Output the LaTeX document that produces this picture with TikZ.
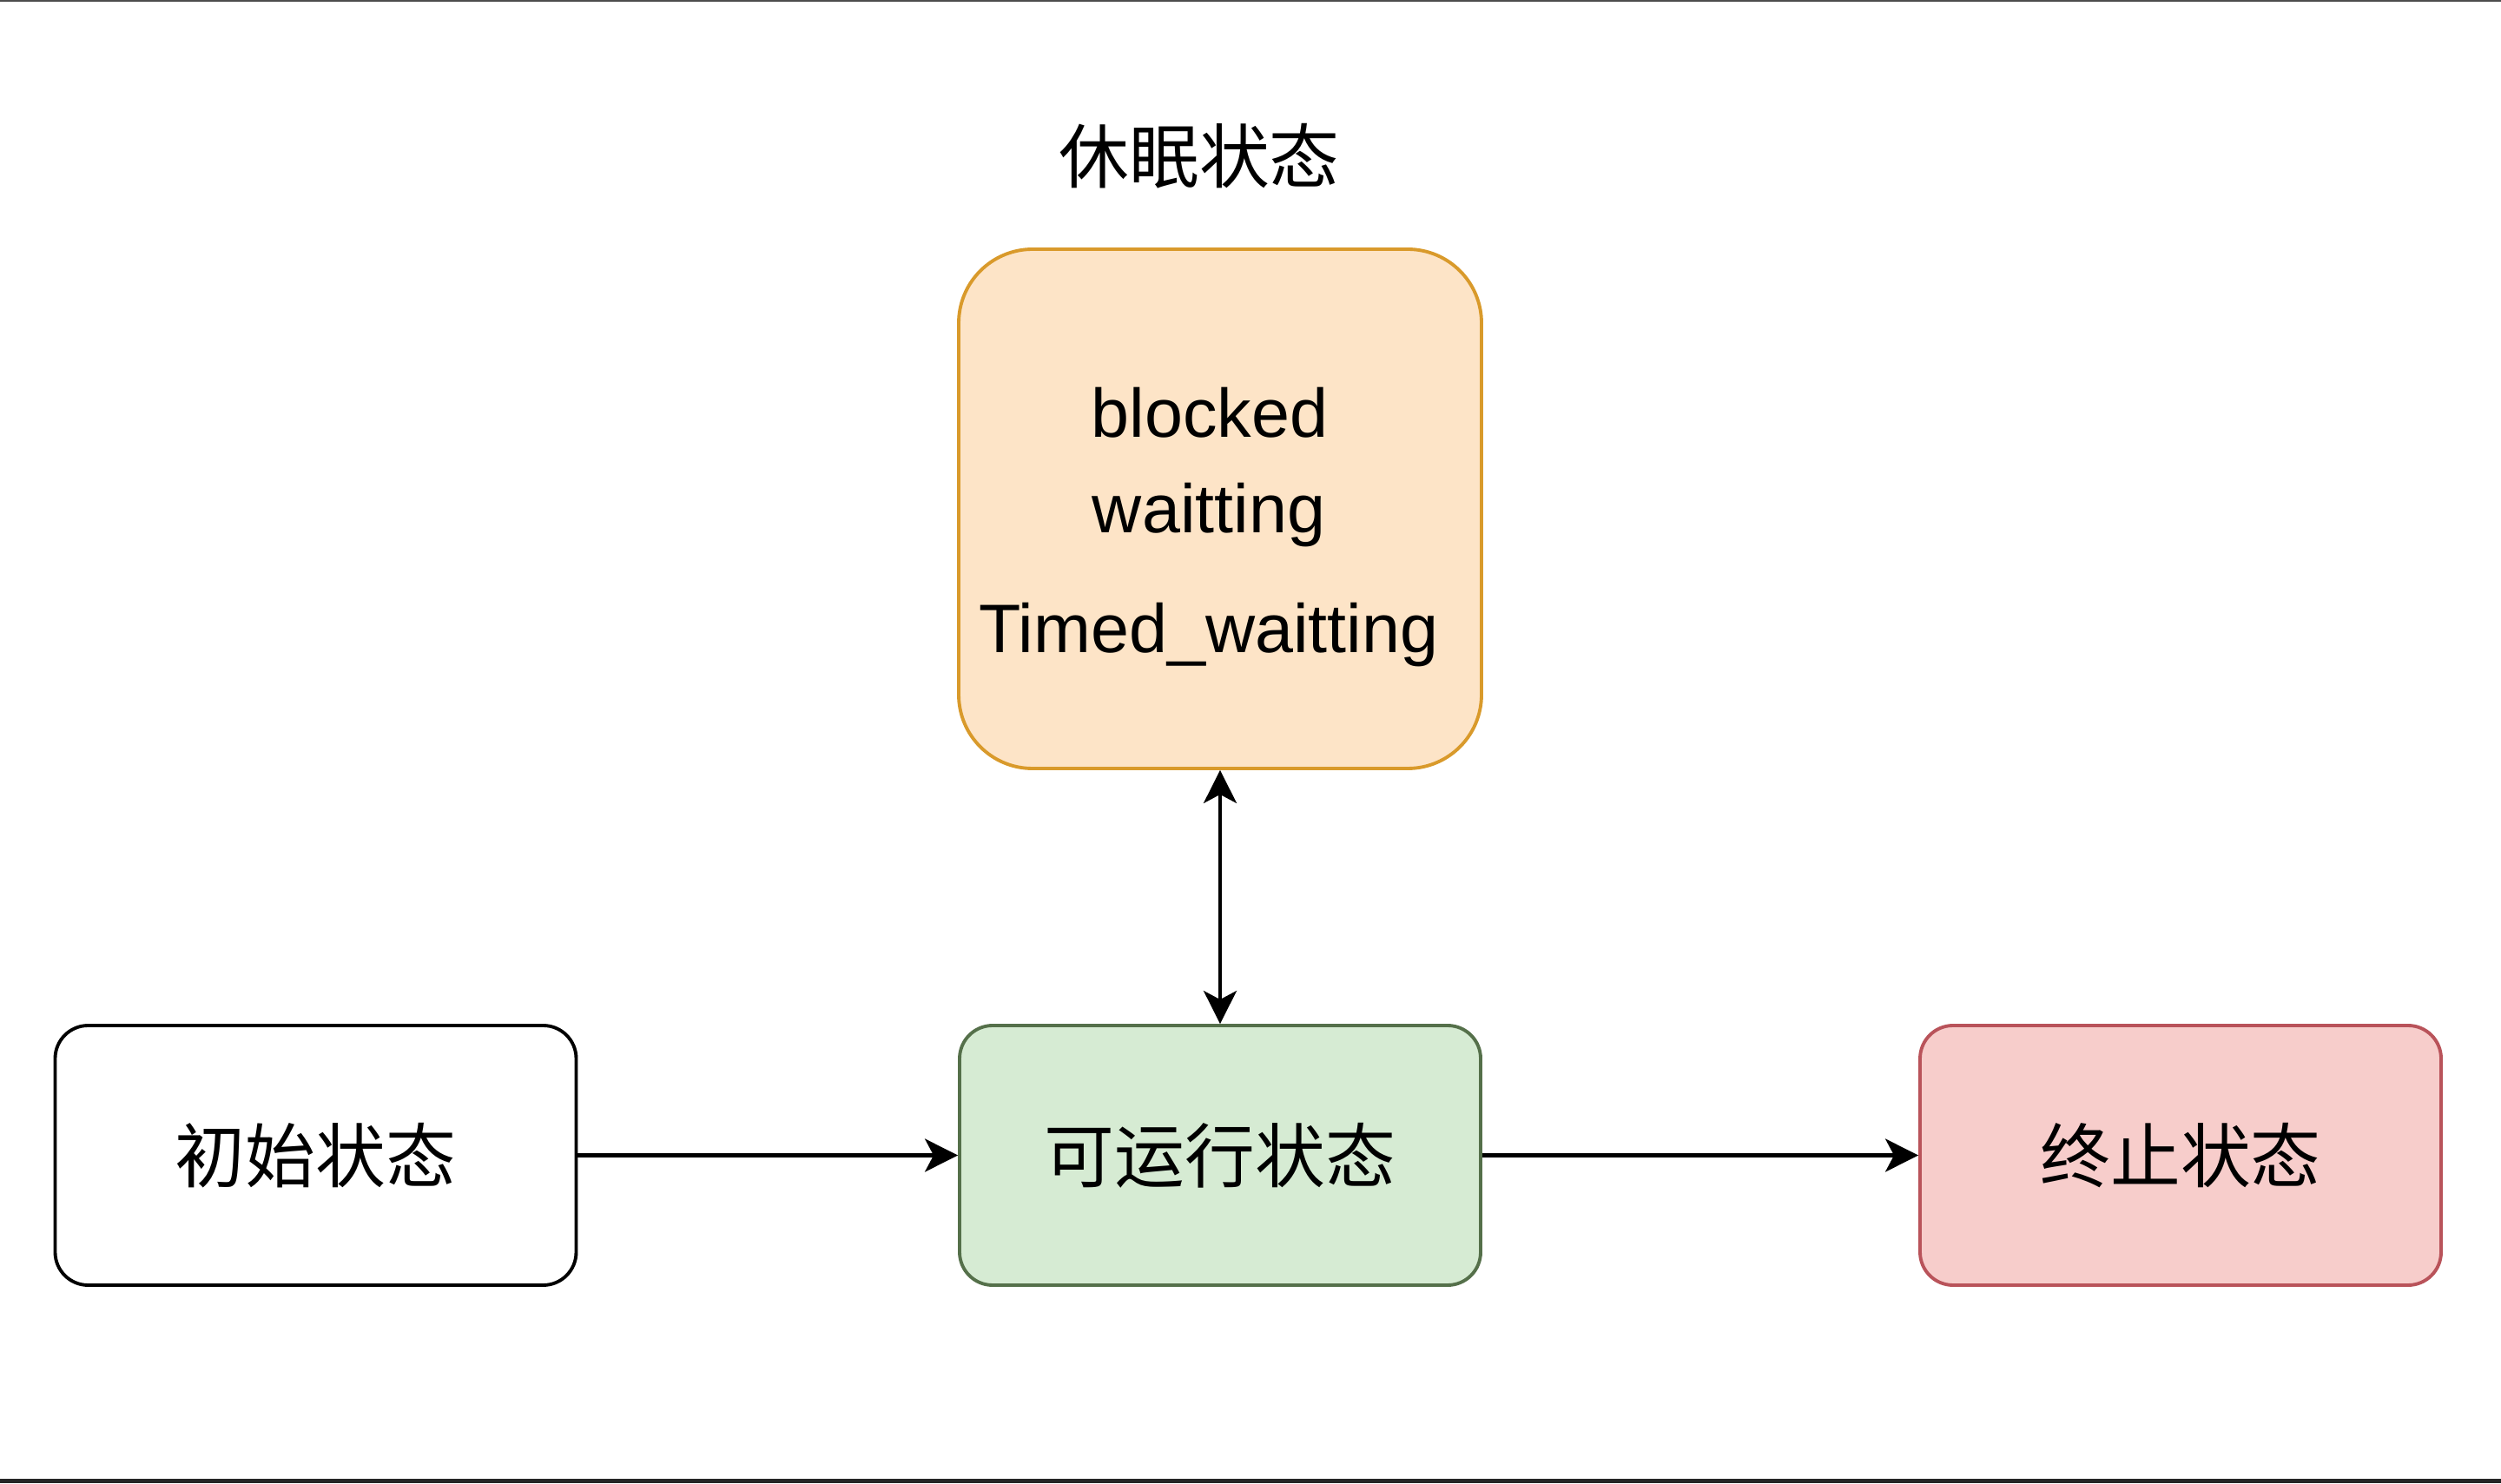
\documentclass[tikz,border=0pt]{standalone}
\usepackage{fontspec}
\setmainfont{Liberation Sans}
\newfontfamily\cjk{Noto Sans CJK SC}
\usetikzlibrary{arrows.meta}
\definecolor{orfill}{HTML}{FDE4C7}
\definecolor{ordraw}{HTML}{D99A2B}
\definecolor{grfill}{HTML}{D6EBD3}
\definecolor{grdraw}{HTML}{55704A}
\definecolor{rdfill}{HTML}{F7CDCB}
\definecolor{rddraw}{HTML}{B9535A}
\tikzset{
  statebox/.style={draw, line width=1.1pt, rounded corners=0.38cm, minimum width=6.0cm, minimum height=2.99cm, inner sep=0pt, font=\cjk\fontsize{23}{28}\selectfont},
  sleepbox/.style={draw=ordraw, fill=orfill, line width=1.1pt, rounded corners=0.85cm, minimum width=6.02cm, minimum height=5.98cm, inner sep=0pt},
  engtext/.style={font=\fontsize{22.5}{27}\selectfont, inner sep=0pt},
  conn/.style={line width=1.2pt, -{Stealth[length=0.38cm, width=0.38cm, inset=0.1cm]}},
  biconn/.style={line width=1.2pt, {Stealth[length=0.38cm, width=0.38cm, inset=0.1cm]}-{Stealth[length=0.38cm, width=0.38cm, inset=0.1cm]}}
}
\begin{document}
\begin{tikzpicture}
\useasboundingbox (0,0) rectangle (28.8,17.08);
\fill[white] (0,0) rectangle (28.8,17.08);
\fill[black!70] (0,17.06) rectangle (28.8,17.08);
\fill[black!85] (0,0) rectangle (28.8,0.05);

\node[statebox, draw=black, fill=white] (init) at (3.635,3.775) {初始状态};
\node[statebox, draw=grdraw, fill=grfill] (run) at (14.05,3.775) {可运行状态};
\node[statebox, draw=rddraw, fill=rdfill] (term) at (25.11,3.775) {终止状态};
\node[sleepbox] (sleep) at (14.05,11.22) {};
\node[font=\cjk\fontsize{23}{28}\selectfont, inner sep=0pt] (title) at (13.81,15.28) {休眠状态};

\node[engtext] (l1) at (13.93,12.33) {blocked};
\node[engtext] (l2) at (13.92,11.15) {waitting};
\node[engtext] (l3) at (13.92,9.77) {Timed\_waitting};

\draw[conn] (init) -- (run);
\draw[conn] (run) -- (term);
\draw[biconn] (sleep.south) -- (run.north);
\end{tikzpicture}
\end{document}
